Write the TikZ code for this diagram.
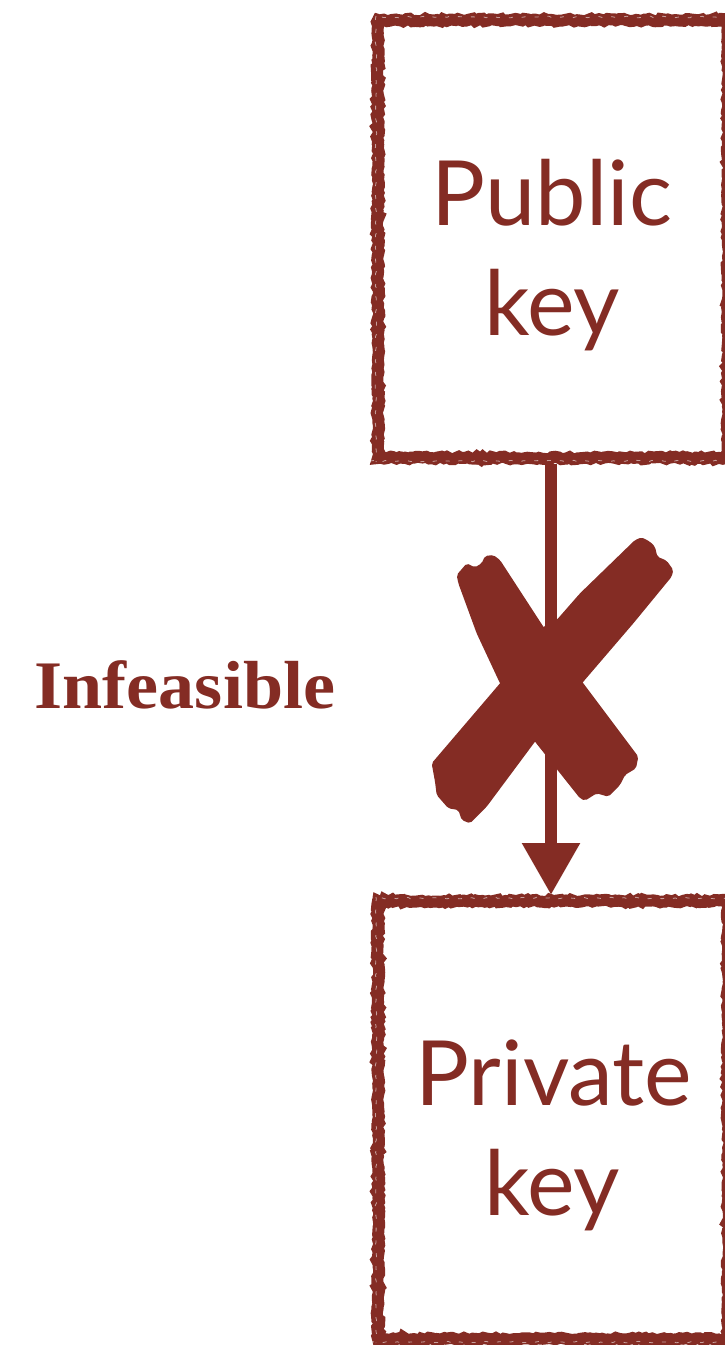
\documentclass[tikz,border=0pt]{standalone}
\usepackage{fontspec}
\setmainfont{Liberation Serif}
\newfontfamily\boxfont{Lato}
\usetikzlibrary{arrows.meta,decorations.pathmorphing}
\definecolor{rust}{RGB}{132,44,36}
\tikzset{
  keybox/.style={draw=rust, fill=white, line width=12pt, minimum width=350pt, minimum height=438pt,
    decorate, decoration={random steps, segment length=3pt, amplitude=1.3pt}},
  keytext/.style={text=rust, font=\boxfont\fontsize{90pt}{110pt}\selectfont, anchor=base, inner sep=0pt},
  labeltext/.style={text=rust, font=\bfseries\fontsize{68pt}{80pt}\selectfont, anchor=base, inner sep=0pt},
  flow/.style={draw=rust, line width=12pt, -{Triangle[width=55pt,length=52pt]}},
  crossmark/.style={fill=rust, draw=none, rounded corners=2pt},
  grain/.style={draw=white, line width=0.8pt, opacity=0.55, dash pattern=on 4pt off 9pt,
    decorate, decoration={random steps, segment length=3pt, amplitude=0.8pt}}
}
\pgfmathsetseed{7}
\begin{document}
\begin{tikzpicture}[x=1pt,y=-1pt]
\useasboundingbox (0,0) rectangle (724,1345);
% boxes
\node[keybox] (pub) at (553,239) {};
\node[keybox] (priv) at (553,1120) {};
% chalky grain on the borders
\foreach \b in {pub,priv}{
  \draw[grain] ([xshift=-3pt,yshift=-3pt]\b.north west) -- ([xshift=3pt,yshift=-3pt]\b.north east);
  \draw[grain] ([xshift=-2pt,yshift=3pt]\b.south west) -- ([xshift=2pt,yshift=3pt]\b.south east);
  \draw[grain] ([xshift=4pt,yshift=-2pt]\b.north west) -- ([xshift=4pt,yshift=2pt]\b.south west);
}
% texts
\node[keytext] (pubA) at (552,225) {Public};
\node[keytext] (pubB) at (552,335) {key};
\node[keytext] (privA) at (554,1105) {Private};
\node[keytext] (privB) at (552,1215) {key};
% connector
\draw[flow] ([xshift=-2pt]pub.south) -- ([xshift=-2pt]priv.north);
% cross
\begin{scope}[shift={(420,530)},scale=1/3]
\fill[crossmark] (110,135) -- (140,100) -- (165,112) -- (185,100) -- (195,78) -- (220,75) -- (240,90)
  -- (370,290) -- (490,460) -- (655,680) -- (648,715) -- (615,735) -- (600,765) -- (565,800)
  -- (530,790) -- (495,812) -- (480,805) -- (345,635) -- (240,460) -- (170,310) -- (115,160) -- cycle;
\fill[crossmark] (645,30) -- (665,22) -- (690,35) -- (705,50) -- (712,80) -- (740,92) -- (760,120)
  -- (755,140) -- (640,280) -- (490,455) -- (345,635) -- (200,830) -- (150,880) -- (125,870)
  -- (115,840) -- (85,835) -- (50,795) -- (45,755) -- (35,700) -- (240,460) -- (370,290)
  -- (410,270) -- (480,190) -- cycle;
\end{scope}
% label
\node[labeltext] (inf) at (185,708) {\scalebox{1.06}[1]{Infeasible}};
\end{tikzpicture}
\end{document}
